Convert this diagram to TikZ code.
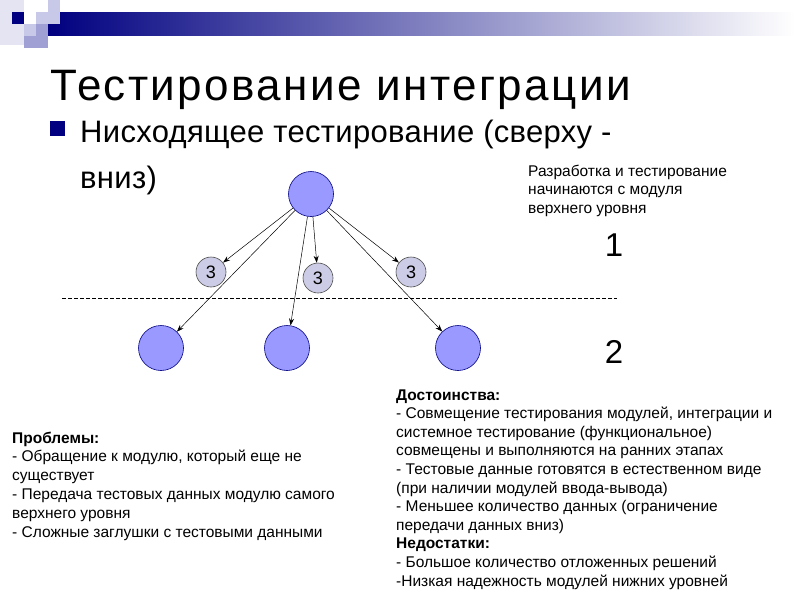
\documentclass[tikz,border=0pt]{standalone}
\usepackage{fontspec}
\setmainfont{Liberation Sans}
\usetikzlibrary{arrows.meta}
\definecolor{navy}{RGB}{0,0,128}
\definecolor{bigfill}{RGB}{153,153,255}
\definecolor{smallfill}{RGB}{204,204,230}
\definecolor{lav1}{RGB}{228,228,242}
\definecolor{lav2}{RGB}{200,200,232}
\definecolor{lav3}{RGB}{160,160,212}
\begin{document}
\begin{tikzpicture}[x=1pt,y=-1pt,
  bigmod/.style={circle,draw=navy,fill=bigfill,line width=0.6pt,minimum size=45pt,inner sep=0pt},
  stubmod/.style={circle,draw=black!70,fill=smallfill,line width=0.6pt,minimum size=30pt,inner sep=0pt,font=\fontsize{18}{18}\selectfont},
  arr/.style={-{Stealth[length=7pt,width=5pt]},line width=0.5pt},
  bodytext/.style={align=left,inner sep=0pt,anchor=base west,font=\fontsize{15.5}{18.7}\selectfont},
  levelnum/.style={inner sep=0pt,font=\fontsize{33}{33}\selectfont}]
\useasboundingbox (0,0) rectangle (800,600);
\fill[white] (0,0) rectangle (800,600);
% header decoration
\shade[left color=navy,right color=white] (48,12) rectangle (795,35);
\fill[lav1] (0,0) rectangle (24,12);
\fill[lav1] (0,12) rectangle (12,45);
\fill[navy] (12,12) rectangle (24,24);
\fill[lav1] (12,24) rectangle (24,45);
\fill[lav2] (36,12) rectangle (60,24);
\fill[lav2] (48,0) rectangle (60,12);
\fill[lav2] (24,24) rectangle (36,36);
\fill[lav3] (36,24) rectangle (48,36);
\fill[lav3] (24,36) rectangle (48,48);
% title
\node[anchor=base west,inner sep=0pt,font=\fontsize{44}{44}\selectfont\addfontfeature{LetterSpace=5.5}] (title) at (50,100) {Тестирование интеграции};
\fill[navy] (50,121) rectangle (65,136);
\node[anchor=base west,inner sep=0pt,align=left,font=\fontsize{31}{46}\selectfont\addfontfeature{LetterSpace=1}] (sub) at (80,188) {Нисходящее тестирование (сверху -\\вниз)};
% right note
\node[bodytext,font=\fontsize{15.5}{18.5}\selectfont] (note) at (528,213) {Разработка и тестирование\\начинаются с модуля\\верхнего уровня};
\node[levelnum] (one) at (614,245) {1};
\node[levelnum] (two) at (614,352) {2};
% dashed separator
\coordinate (dl) at (62,298);
\coordinate (dr) at (617,298);
\draw[line width=0.5pt,dash pattern=on 4pt off 2pt] (dl) -- (dr);
% modules
\node[bigmod] (top) at (311,194) {};
\node[stubmod] (s1) at (211,272) {3};
\node[stubmod] (s2) at (318,278) {3};
\node[stubmod] (s3) at (411,272) {3};
\node[bigmod] (b1) at (161,348) {};
\node[bigmod] (b2) at (287,348) {};
\node[bigmod] (b3) at (458,348) {};
\draw[arr] (top) -- (s1);
\draw[arr] (top) -- (s2);
\draw[arr] (top) -- (s3);
\draw[arr] (top) -- (b1);
\draw[arr] (top) -- (b2);
\draw[arr] (top) -- (b3);
% text blocks
\node[bodytext,font=\fontsize{15.5}{18.8}\selectfont] (prob) at (12,537) {\textbf{Проблемы:}\\- Обращение к модулю, который еще не\\существует\\- Передача тестовых данных модулю самого\\верхнего уровня\\- Сложные заглушки с тестовыми данными};
\node[bodytext,font=\fontsize{15.5}{18.6}\selectfont] (adv) at (396,586) {\textbf{Достоинства:}\\- Совмещение тестирования модулей, интеграции и\\системное тестирование (функциональное)\\совмещены и выполняются на ранних этапах\\- Тестовые данные готовятся в естественном виде\\(при наличии модулей ввода-вывода)\\- Меньшее количество данных (ограничение\\передачи данных вниз)\\\textbf{Недостатки:}\\- Большое количество отложенных решений\\-Низкая надежность модулей нижних уровней};
\end{tikzpicture}
\end{document}
